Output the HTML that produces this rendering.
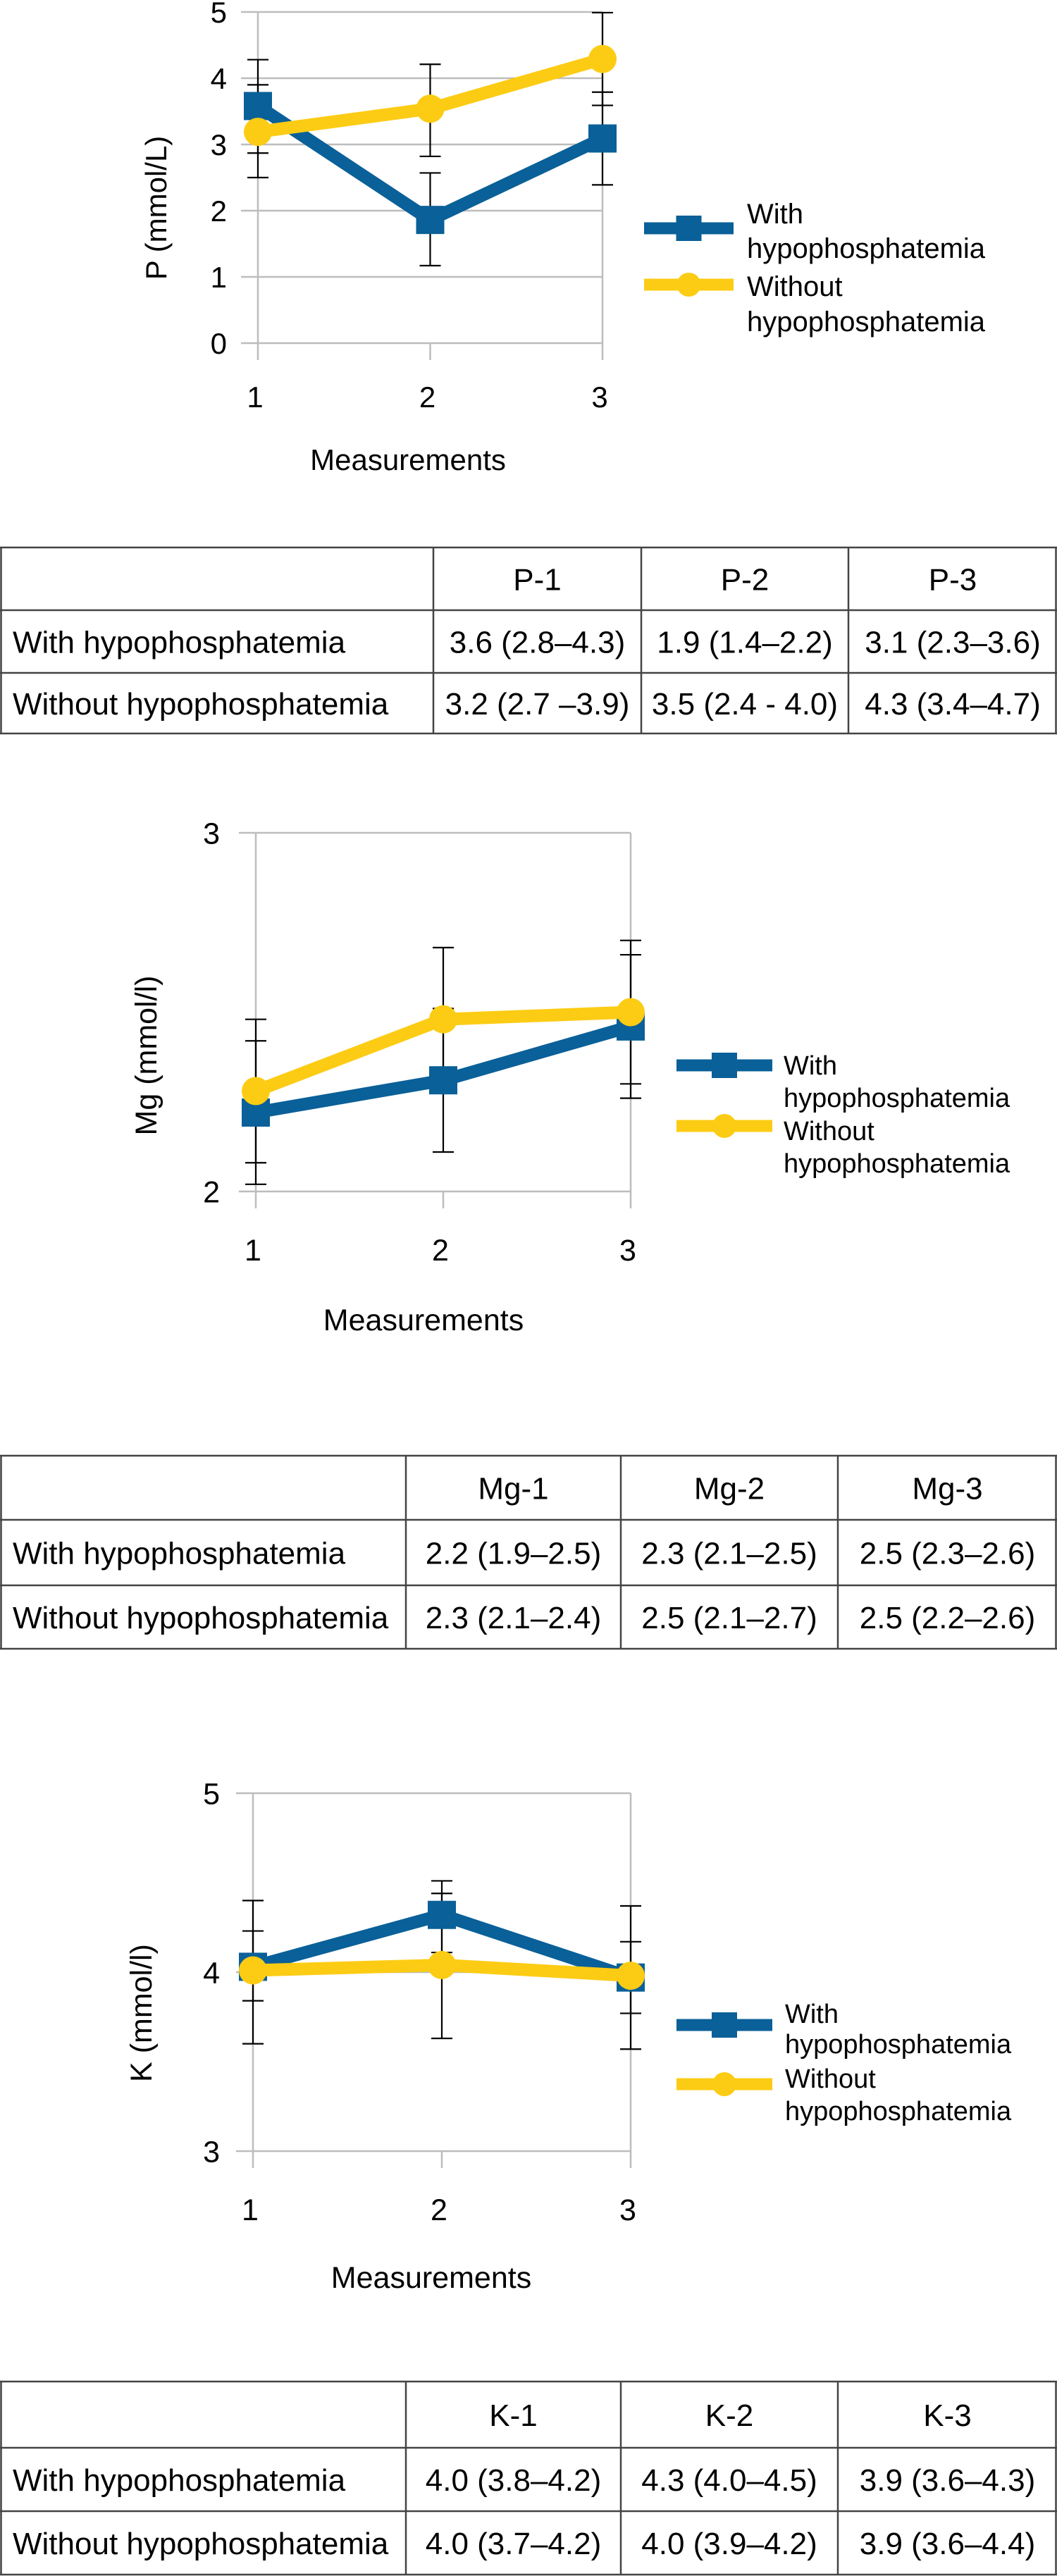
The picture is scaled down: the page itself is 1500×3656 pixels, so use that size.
<!DOCTYPE html>
<html><head><meta charset="utf-8"><title>Electrolyte measurements</title>
<style>
html,body{margin:0;padding:0;background:#fff;}
svg{display:block;font-family:"Liberation Sans",Arial,sans-serif;}
</style></head>
<body>
<svg id="root" width="1500" height="3656" viewBox="0 0 1500 3656" xmlns="http://www.w3.org/2000/svg"></svg>
<script>
// ---- data ----
const categories = ["1","2","3"];
const pWith = [3.58, 1.86, 3.09];
const pWithLo = [2.87, 1.17, 2.39];
const pWithHi = [4.28, 2.57, 3.79];
const pWithout = [3.19, 3.54, 4.29];
const pWithoutLo = [2.50, 2.82, 3.59];
const pWithoutHi = [3.90, 4.21, 4.99];
const pTicks = [0,1,2,3,4,5];

const mgWith = [2.22, 2.31, 2.46];
const mgWithLo = [2.02, 2.11, 2.26];
const mgWithHi = [2.42, 2.51, 2.66];
const mgWithout = [2.28, 2.48, 2.50];
const mgWithoutLo = [2.08, 2.28, 2.30];
const mgWithoutHi = [2.48, 2.68, 2.70];
const mgTicks = [2,3];

const kWith = [4.03, 4.32, 3.97];
const kWithLo = [3.84, 4.11, 3.77];
const kWithHi = [4.23, 4.51, 4.17];
const kWithout = [4.01, 4.04, 3.98];
const kWithoutLo = [3.60, 3.63, 3.57];
const kWithoutHi = [4.40, 4.44, 4.37];
const kTicks = [3,4,5];

const tableRowLabels = ["With hypophosphatemia","Without hypophosphatemia"];
const pHeaders = ["P-1","P-2","P-3"];
const pCells = [["3.6 (2.8\u20134.3)","1.9 (1.4\u20132.2)","3.1 (2.3\u20133.6)"],["3.2 (2.7 \u20133.9)","3.5 (2.4 - 4.0)","4.3 (3.4\u20134.7)"]];
const mgHeaders = ["Mg-1","Mg-2","Mg-3"];
const mgCells = [["2.2 (1.9\u20132.5)","2.3 (2.1\u20132.5)","2.5 (2.3\u20132.6)"],["2.3 (2.1\u20132.4)","2.5 (2.1\u20132.7)","2.5 (2.2\u20132.6)"]];
const kHeaders = ["K-1","K-2","K-3"];
const kCells = [["4.0 (3.8\u20134.2)","4.3 (4.0\u20134.5)","3.9 (3.6\u20134.3)"],["4.0 (3.7\u20134.2)","4.0 (3.9\u20134.2)","3.9 (3.6\u20134.4)"]];

const NS = "http://www.w3.org/2000/svg";
const root = document.getElementById("root");
const BLUE = "#0a6098", YEL = "#fccc14", GRID = "#bdbdbd";

function mk(tag, attrs, parent){
  const e = document.createElementNS(NS, tag);
  for (const k in attrs) e.setAttribute(k, attrs[k]);
  (parent||root).appendChild(e);
  return e;
}
function txt(parent, x, y, s, size, anchor, extra){
  const t = mk("text", Object.assign({x:x, y:y, "font-size":size, "text-anchor":anchor||"start", fill:"#000"}, extra||{}), parent);
  t.textContent = s;
  return t;
}

function drawChart(c){
  const g = mk("g", {});
  
  
  const ymin = c.ticks[0], ymax = c.ticks[c.ticks.length-1];
  const yS = v => c.yBottom - (v - ymin) / (ymax - ymin) * (c.yBottom - c.yTop);
  const xS = i => c.x0 + i * (c.x1 - c.x0) / (categories.length - 1);
  const grid = mk("g", {stroke:GRID, "stroke-width":2.5, fill:"none"}, g);
  
  
  c.ticks.forEach(t => {
    mk("line", {x1:c.x0-24, x2:c.x1, y1:yS(t), y2:yS(t)}, grid);
    const lb = txt(g, c.labelX, yS(t) + c.tickSize*0.36, String(t), c.tickSize, "end");
    
    
  });
  mk("line", {x1:c.x0, x2:c.x0, y1:c.yTop, y2:c.yBottom+24}, grid);
  mk("line", {x1:c.x1, x2:c.x1, y1:c.yTop, y2:c.yBottom+24}, grid);
  mk("line", {x1:xS(1), x2:xS(1), y1:c.yBottom, y2:c.yBottom+24}, grid);
  categories.forEach((cat,i) => {
    const lb = txt(g, xS(i)-4, c.catY, cat, c.tickSize, "middle");
    
    
  });
  const xt = txt(g, c.xTitleX, c.xTitleY, "Measurements", c.tickSize, "middle");
  
  
  const yt = txt(g, 0, 0, c.yTitle, c.tickSize, "middle", {transform:"translate("+(c.yTitleX+14)+","+c.yTitleY+") rotate(-90)"});
  
  

  const series = [
    {vals:c.w, lo:c.wLo, hi:c.wHi, col:BLUE, mark:"sq", name:"with-hypophosphatemia"},
    {vals:c.wo, lo:c.woLo, hi:c.woHi, col:YEL, mark:"ci", name:"without-hypophosphatemia"}
  ];
  series.forEach(s => {
    const eg = mk("g", {stroke:"#000", "stroke-width":2.2}, g);
    
    
    s.vals.forEach((v,i) => {
      const x = xS(i);
      mk("line", {x1:x, x2:x, y1:yS(s.lo[i]), y2:yS(s.hi[i])}, eg);
      mk("line", {x1:x-15, x2:x+15, y1:yS(s.lo[i]), y2:yS(s.lo[i])}, eg);
      mk("line", {x1:x-15, x2:x+15, y1:yS(s.hi[i]), y2:yS(s.hi[i])}, eg);
    });
  });
  series.forEach(s => {
    const pts = s.vals.map((v,i) => xS(i)+","+yS(v)).join(" ");
    const pl = mk("polyline", {points:pts, fill:"none", stroke:s.col, "stroke-width":18, "stroke-linejoin":"miter"}, g);
    
    
    s.vals.forEach((v,i) => {
      let m;
      if (s.mark === "sq") m = mk("rect", {x:xS(i)-20, y:yS(v)-20, width:40, height:40, fill:s.col}, g);
      else m = mk("circle", {cx:xS(i), cy:yS(v), r:20, fill:s.col}, g);
      
      
    });
  });
  const lg = mk("g", {}, g);
  
  
  [[BLUE,"sq",c.legY1,"With",c.legB[0],c.legB[1]],[YEL,"ci",c.legY2,"Without",c.legB[2],c.legB[3]]].forEach(L => {
    const e = mk("g", {}, lg);
    
    
    mk("line", {x1:c.legL0, x2:c.legL1, y1:L[2], y2:L[2], stroke:L[0], "stroke-width":17}, e);
    const mx = (c.legL0 + c.legL1) / 2;
    if (L[1]==="sq") mk("rect", {x:mx-18, y:L[2]-18, width:36, height:36, fill:L[0]}, e);
    else mk("circle", {cx:mx, cy:L[2], r:17, fill:L[0]}, e);
    txt(e, c.legX, L[4], L[3], c.legSize);
    txt(e, c.legX, L[5], "hypophosphatemia", c.legSize);
  });
}

function drawTable(t){
  const g = mk("g", {});
  
  
  const cols = [0].concat(t.cols).concat([1500]);
  const ln = {stroke:"#444", "stroke-width":2.5};
  t.rows.forEach(y => mk("line", Object.assign({x1:0, x2:1500, y1:y, y2:y}, ln), g));
  cols.forEach((x,i) => {
    const xx = i===0 ? 1.5 : (i===cols.length-1 ? 1498.5 : x);
    mk("line", Object.assign({x1:xx, x2:xx, y1:t.rows[0], y2:t.rows[3]}, ln), g);
  });
  const rowMid = i => (t.rows[i] + t.rows[i+1]) / 2 + 16;
  t.headers.forEach((h,j) => {
    const e = txt(g, (cols[j+1]+cols[j+2])/2, rowMid(0), h, 44, "middle");
    
    
  });
  tableRowLabels.forEach((r,i) => {
    const e = txt(g, 18, rowMid(i+1), r, 44, "start");
    
    
    t.cells[i].forEach((v,j) => {
      const c = txt(g, (cols[j+1]+cols[j+2])/2, rowMid(i+1), v, 44, "middle");
      
      
    });
  });
}

drawChart({name:"phosphate-chart", ticks:pTicks, x0:366, x1:855, yTop:17, yBottom:487,
  labelX:322, catY:578, tickSize:42, xTitleX:579, xTitleY:667, yTitle:"P (mmol/L)", yTitleX:222, yTitleY:295,
  w:pWith, wLo:pWithLo, wHi:pWithHi, wo:pWithout, woLo:pWithoutLo, woHi:pWithoutHi,
  legL0:914, legL1:1041, legY1:324, legY2:404, legX:1060, legB:[317,366,420,470], legSize:40});
drawTable({name:"phosphate-table", rows:[777,866,955,1041], cols:[615,910,1204], headers:pHeaders, cells:pCells});

drawChart({name:"magnesium-chart", ticks:mgTicks, x0:363, x1:895, yTop:1182, yBottom:1691,
  labelX:312, catY:1789, tickSize:43, xTitleX:601, xTitleY:1888, yTitle:"Mg (mmol/l)", yTitleX:208, yTitleY:1498,
  w:mgWith, wLo:mgWithLo, wHi:mgWithHi, wo:mgWithout, woLo:mgWithoutLo, woHi:mgWithoutHi,
  legL0:960, legL1:1096, legY1:1512, legY2:1598, legX:1112, legB:[1525,1571,1618,1664], legSize:38});
drawTable({name:"magnesium-table", rows:[2066,2157,2250,2340], cols:[576,881,1189], headers:mgHeaders, cells:mgCells});

drawChart({name:"potassium-chart", ticks:kTicks, x0:359, x1:895, yTop:2545, yBottom:3053,
  labelX:312, catY:3151, tickSize:43, xTitleX:612, xTitleY:3247, yTitle:"K (mmol/l)", yTitleX:201, yTitleY:2857,
  w:kWith, wLo:kWithLo, wHi:kWithHi, wo:kWithout, woLo:kWithoutLo, woHi:kWithoutHi,
  legL0:960, legL1:1096, legY1:2874, legY2:2958, legX:1114, legB:[2871,2914,2963,3009], legSize:38});
drawTable({name:"potassium-table", rows:[3380,3474,3564,3654], cols:[576,881,1189], headers:kHeaders, cells:kCells});
</script>
</body></html>
